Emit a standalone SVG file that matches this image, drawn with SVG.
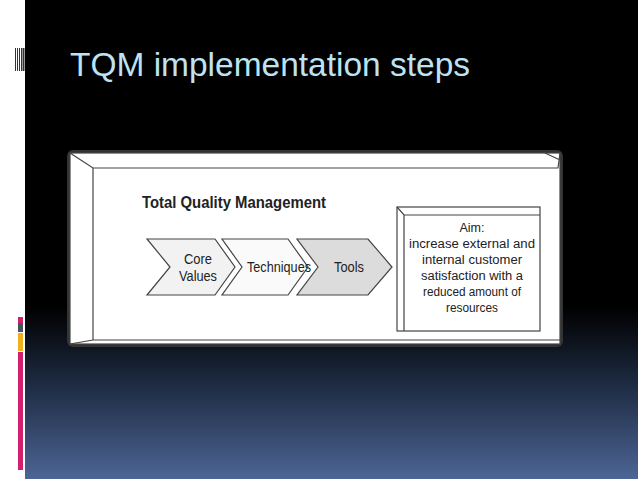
<svg xmlns="http://www.w3.org/2000/svg" width="638" height="479" viewBox="0 0 638 479">
<defs>
<linearGradient id="bg" x1="0" y1="0" x2="0" y2="1">
<stop offset="0" stop-color="#000"/><stop offset="0.64" stop-color="#000"/><stop offset="0.8" stop-color="#1d2a40"/><stop offset="1" stop-color="#4d6595"/>
</linearGradient>
<style>
.ln{stroke:#444;stroke-width:1.2}
.t{font-family:"Liberation Sans",Arial,sans-serif;fill:#222}
</style>
</defs>
<rect width="638" height="479" fill="url(#bg)"/>
<rect x="0" y="0" width="25" height="479" fill="#fff"/>
<g fill="#333"><rect x="15" y="48" width="1" height="23"/><rect x="17" y="48" width="1" height="23"/><rect x="19" y="48" width="1" height="23"/><rect x="21" y="48" width="1.5" height="23"/><rect x="23" y="48" width="1.5" height="23"/></g>
<rect x="18" y="317" width="5" height="6" fill="#d0206e"/>
<rect x="18" y="323" width="5" height="9" fill="#4a5060"/>
<rect x="18" y="333" width="5" height="18" fill="#f0b020"/>
<rect x="18" y="352" width="5" height="118" fill="#d0206e"/>
<text x="70" y="76" font-family="Liberation Sans,Arial,sans-serif" font-size="33" fill="#bde3f2" textLength="400" lengthAdjust="spacingAndGlyphs">TQM implementation steps</text>
<g id="frame">
<rect x="67" y="150" width="496" height="197" rx="6" fill="#333"/>
<rect x="70" y="153" width="490" height="191" fill="#fff" class="ln"/>
<path class="ln" fill="none" d="M70 153 L93 168 L558 168 L560 153 M93 168 L93 340 L560 340 M70 344 L93 340 M545 153 L560 160"/>
<text x="142" y="208" class="t" font-size="17" font-weight="bold" textLength="184" lengthAdjust="spacingAndGlyphs">Total Quality Management</text>
</g>
<g id="core"><path d="M147 239 L215 239 L235 267 L215 295 L147 295 L170 267 Z" fill="#f2f2f2" class="ln"/>
<text class="t" font-size="14" text-anchor="middle"><tspan x="198" y="264" textLength="28" lengthAdjust="spacingAndGlyphs">Core</tspan><tspan x="198" y="281" textLength="38" lengthAdjust="spacingAndGlyphs">Values</tspan></text></g>
<g id="tech"><path d="M222 239 L288 239 L308 267 L288 295 L222 295 L242 267 Z" fill="#fafafa" class="ln"/>
<text x="247" y="272" class="t" font-size="14" textLength="64" lengthAdjust="spacingAndGlyphs">Techniques</text></g>
<g id="tools"><path d="M297 239 L368 239 L392 267 L368 295 L297 295 L318 267 Z" fill="#dcdcdc" class="ln"/>
<text x="334" y="272" class="t" font-size="14" textLength="30" lengthAdjust="spacingAndGlyphs">Tools</text></g>
<g id="aim">
<rect x="397" y="207" width="143" height="124" fill="#fff" class="ln"/>
<path class="ln" fill="none" d="M397 207 L404 215 L540 215 M404 215 L404 331"/>
<g class="t" font-size="12.5" text-anchor="middle">
<text x="472" y="232">Aim:</text>
<text x="472" y="248" textLength="126" lengthAdjust="spacingAndGlyphs">increase external and</text>
<text x="472" y="264" textLength="100" lengthAdjust="spacingAndGlyphs">internal customer</text>
<text x="472" y="280" textLength="102" lengthAdjust="spacingAndGlyphs">satisfaction with a</text>
<text x="472" y="296" textLength="98" lengthAdjust="spacingAndGlyphs">reduced amount of</text>
<text x="472" y="312" textLength="52" lengthAdjust="spacingAndGlyphs">resources</text>
</g>
</g>
<g id="connectors"/>
</svg>
